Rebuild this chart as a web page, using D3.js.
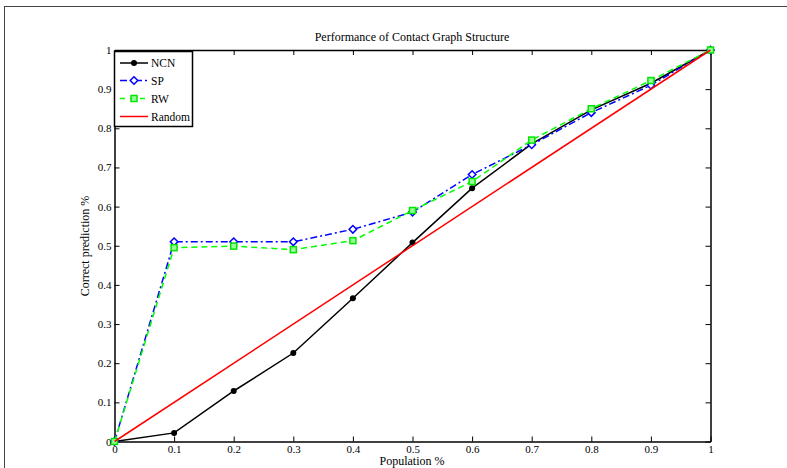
<!DOCTYPE html>
<html>
<head>
<meta charset="utf-8">
<script src="https://cdn.jsdelivr.net/npm/d3@7"></script>
<style>
  body { margin: 0; background: #fff; }
  svg text { font-family: "Liberation Serif", "DejaVu Serif", serif; fill: #000; }
</style>
</head>
<body>
<svg id="chart" width="787" height="468"></svg>
<script>
// population fraction on the x axis
const population = [0, 0.1, 0.2, 0.3, 0.4, 0.5, 0.6, 0.7, 0.8, 0.9, 1];
const ncn = [0, 0.022, 0.129, 0.226, 0.366, 0.508, 0.647, 0.76, 0.847, 0.915, 1];
const sp = [0, 0.51, 0.51, 0.51, 0.542, 0.586, 0.682, 0.758, 0.84, 0.91, 1];
const rw = [0, 0.495, 0.499, 0.49, 0.513, 0.59, 0.664, 0.77, 0.85, 0.922, 1];
const randomLine = [0, 1];
const randomX = [0, 1];
const xTicks = [0, 0.1, 0.2, 0.3, 0.4, 0.5, 0.6, 0.7, 0.8, 0.9, 1];
const yTicks = [0, 0.1, 0.2, 0.3, 0.4, 0.5, 0.6, 0.7, 0.8, 0.9, 1];

const svg = d3.select("#chart");

// outer figure frame
svg.append("rect")
  .attr("x", 4.5).attr("y", 6.5)
  .attr("width", 790).attr("height", 470)
  .attr("fill", "none").attr("stroke", "#444").attr("stroke-width", 1);

const pLeft = 114.5, pRight = 710.5, pTop = 50, pBottom = 441.5;
const x = d3.scaleLinear().domain([0, 1]).range([pLeft, pRight]);
const y = d3.scaleLinear().domain([0, 1]).range([pBottom, pTop]);

// axes, ticks point inwards (matlab style box)
const fmt = d => d === 0 ? "0" : d === 1 ? "1" : d3.format(".1f")(d);
const tickLen = 5;

const xAxis = svg.append("g").attr("transform", `translate(0,${pBottom})`)
  .call(d3.axisBottom(x).tickValues(xTicks).tickFormat(fmt).tickSizeInner(-tickLen).tickSizeOuter(0).tickPadding(2));
const xAxisTop = svg.append("g").attr("transform", `translate(0,${pTop})`)
  .call(d3.axisTop(x).tickValues(xTicks).tickFormat("").tickSizeInner(-tickLen).tickSizeOuter(0));
const yAxis = svg.append("g").attr("transform", `translate(${pLeft},0)`)
  .call(d3.axisLeft(y).tickValues(yTicks).tickFormat(fmt).tickSizeInner(-tickLen).tickSizeOuter(0).tickPadding(3));
const yAxisRight = svg.append("g").attr("transform", `translate(${pRight},0)`)
  .call(d3.axisRight(y).tickValues(yTicks).tickFormat("").tickSizeInner(-tickLen).tickSizeOuter(0));

[xAxis, xAxisTop, yAxis, yAxisRight].forEach(g => {
  g.select(".domain").attr("stroke", "#000").attr("stroke-width", 1.5);
  g.selectAll(".tick line").attr("stroke", "#000");
  g.selectAll("text").style("font-family", "Liberation Serif").style("font-size", "11px").attr("fill", "#000");
});
xAxis.selectAll("text").attr("dy", "0.85em");

const line = d3.line()
  .x((d, i) => x(population[i]))
  .y(d => y(d));

const plotArea = svg.append("g");

// NCN
plotArea.append("path").datum(ncn).attr("d", line)
  .attr("fill", "none").attr("stroke", "#000").attr("stroke-width", 1.5);
plotArea.selectAll(".ncn").data(ncn).enter().append("circle")
  .attr("cx", (d, i) => x(population[i])).attr("cy", d => y(d))
  .attr("r", 3).attr("fill", "#000");

// SP
plotArea.append("path").datum(sp).attr("d", line)
  .attr("fill", "none").attr("stroke", "#0000ff").attr("stroke-width", 1.5)
  .attr("stroke-dasharray", "7,3,2,3");
const diamond = d3.symbol().type(d3.symbolDiamond2).size(36);
plotArea.selectAll(".sp").data(sp).enter().append("path")
  .attr("d", diamond)
  .attr("transform", (d, i) => `translate(${x(population[i])},${y(d)})`)
  .attr("fill", "#fff").attr("stroke", "#0000ff").attr("stroke-width", 1.5);

// RW
plotArea.append("path").datum(rw).attr("d", line)
  .attr("fill", "none").attr("stroke", "#00ff00").attr("stroke-width", 1.5)
  .attr("stroke-dasharray", "6,4");
plotArea.selectAll(".rw").data(rw).enter().append("rect")
  .attr("x", (d, i) => x(population[i]) - 3).attr("y", d => y(d) - 3)
  .attr("width", 6).attr("height", 6)
  .attr("fill", "#9f9").attr("stroke", "#00e600").attr("stroke-width", 1.5);

// Random
plotArea.append("path")
  .datum(randomLine)
  .attr("d", d3.line().x((d, i) => x(randomX[i])).y(d => y(d)))
  .attr("fill", "none").attr("stroke", "#ff0000").attr("stroke-width", 1.5);

// title and axis labels
svg.append("text").attr("x", 412).attr("y", 41).attr("text-anchor", "middle")
  .style("font-size", "12px").text("Performance of Contact Graph Structure");
svg.append("text").attr("x", 412).attr("y", 465).attr("text-anchor", "middle")
  .style("font-size", "12px").text("Population %");
svg.append("text").attr("transform", "translate(89,246) rotate(-90)").attr("text-anchor", "middle")
  .style("font-size", "12px").text("Correct prediction %");

// legend
const legendNames = ["NCN", "SP", "RW", "Random"];
const legend = svg.append("g");
legend.append("rect").attr("x", 114.5).attr("y", 51.5).attr("width", 78).attr("height", 75)
  .attr("fill", "#fff").attr("stroke", "#000").attr("stroke-width", 1.5);
const rowY = [63, 80.5, 98.5, 116.5];
legendNames.forEach((name, i) => {
  const g = legend.append("g");
  const ly = rowY[i];
  const ln = g.append("line").attr("x1", 120).attr("x2", 148).attr("y1", ly).attr("y2", ly)
    .attr("stroke-width", 1.5);
  if (i === 0) {
    ln.attr("stroke", "#000");
    g.append("circle").attr("cx", 134).attr("cy", ly).attr("r", 3).attr("fill", "#000");
  } else if (i === 1) {
    ln.attr("stroke", "#0000ff").attr("stroke-dasharray", "7,3,2,3");
    g.append("path").attr("d", diamond).attr("transform", `translate(134,${ly})`)
      .attr("fill", "#fff").attr("stroke", "#0000ff").attr("stroke-width", 1.5);
  } else if (i === 2) {
    ln.attr("stroke", "#00ff00").attr("stroke-dasharray", "5,5");
    g.append("rect").attr("x", 131).attr("y", ly - 3).attr("width", 6).attr("height", 6)
      .attr("fill", "#9f9").attr("stroke", "#00e600").attr("stroke-width", 1.5);
  } else {
    ln.attr("stroke", "#ff0000");
  }
  g.append("text").attr("x", 151).attr("y", ly + 4).style("font-size", "11.5px").text(name);
});
</script>
</body>
</html>
